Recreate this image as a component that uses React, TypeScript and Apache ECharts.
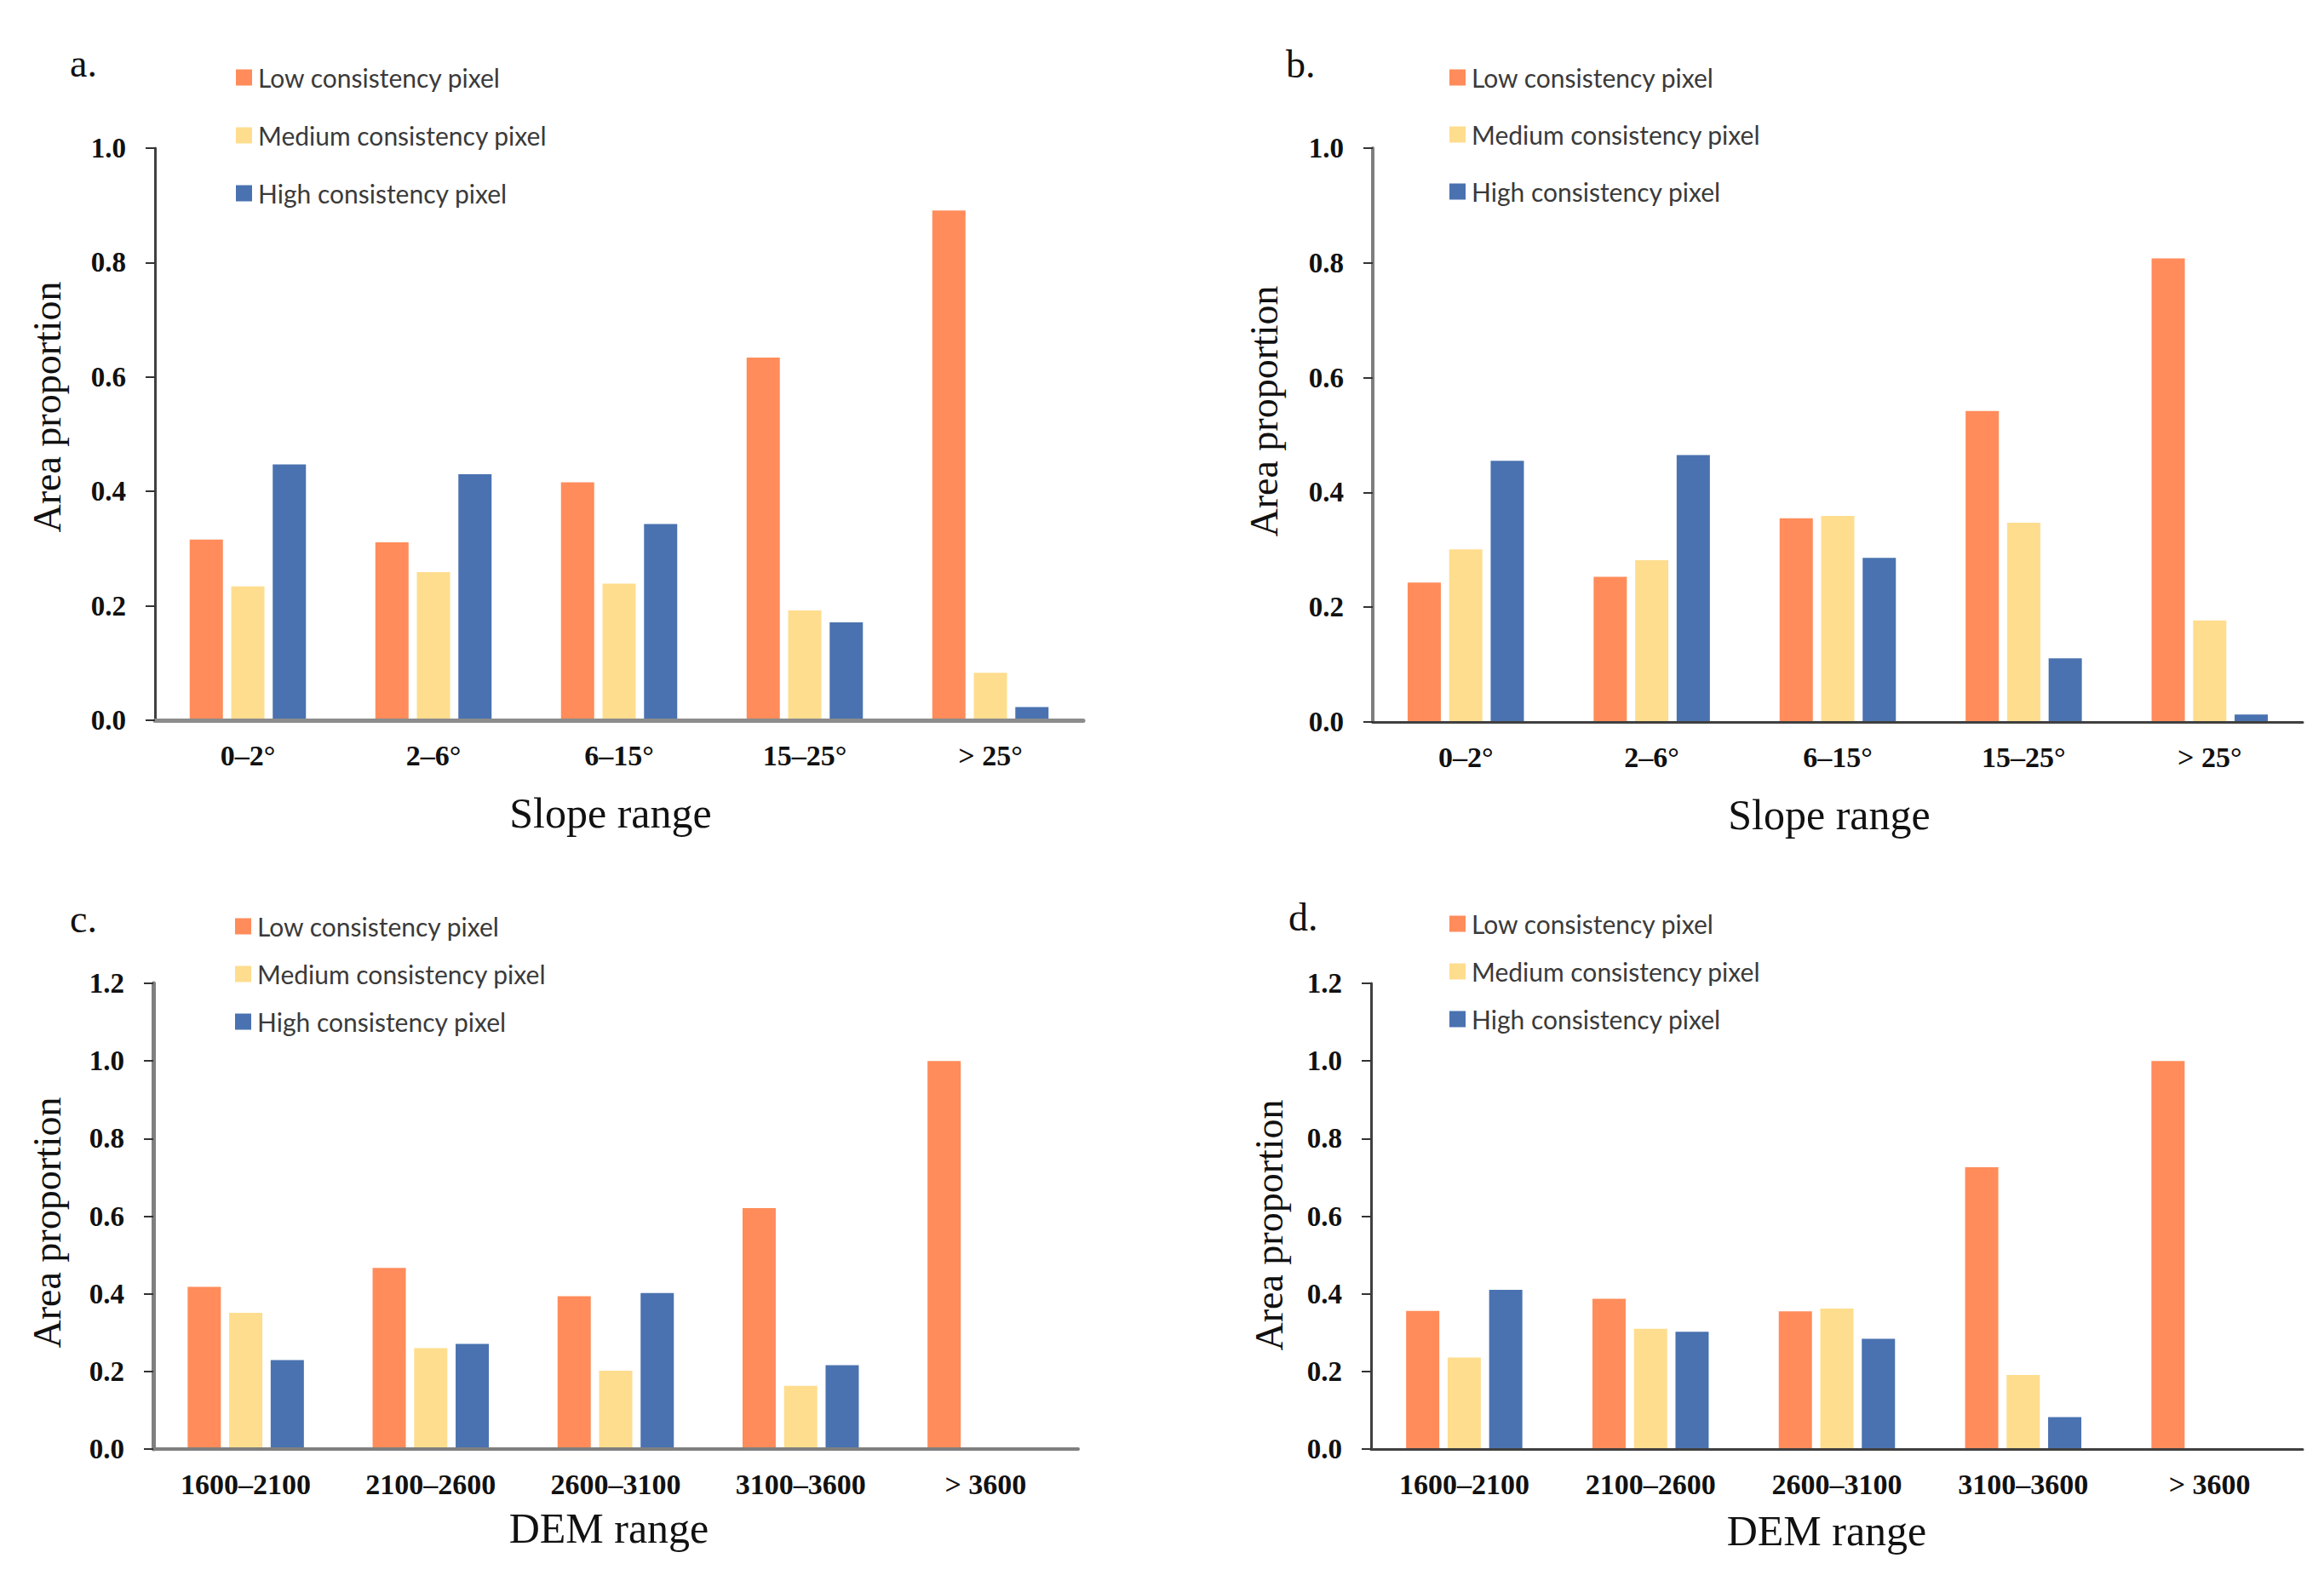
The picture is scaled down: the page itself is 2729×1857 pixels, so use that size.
import React, { useEffect, useRef } from "react";
import * as echarts from "echarts";

const slopeCategories = ["0–2°", "2–6°", "6–15°", "15–25°", "> 25°"];
const demCategories = ["1600–2100", "2100–2600", "2600–3100", "3100–3600", "> 3600"];
const seriesNames = ["Low consistency pixel", "Medium consistency pixel", "High consistency pixel"];
const seriesColors = ["#FF8C5A", "#FFDD8E", "#4A72B0"];

const aLow = [0.316, 0.311, 0.416, 0.634, 0.891];
const aMedium = [0.234, 0.259, 0.239, 0.192, 0.083];
const aHigh = [0.447, 0.43, 0.343, 0.171, 0.023];

const bLow = [0.243, 0.253, 0.355, 0.542, 0.808];
const bMedium = [0.301, 0.282, 0.359, 0.347, 0.177];
const bHigh = [0.455, 0.465, 0.286, 0.111, 0.013];

const cLow = [0.418, 0.467, 0.394, 0.621, 1.0];
const cMedium = [0.351, 0.26, 0.202, 0.163, 0];
const cHigh = [0.229, 0.271, 0.402, 0.216, 0];

const dLow = [0.356, 0.387, 0.355, 0.726, 1.0];
const dMedium = [0.236, 0.31, 0.362, 0.191, 0];
const dHigh = [0.41, 0.302, 0.284, 0.082, 0];

const slopeYTicks = ["0.0", "0.2", "0.4", "0.6", "0.8", "1.0"];
const demYTicks = ["0.0", "0.2", "0.4", "0.6", "0.8", "1.0", "1.2"];

const panelLetters = ["a.", "b.", "c.", "d."];
const xTitles = ["Slope range", "Slope range", "DEM range", "DEM range"];
const yTitle = "Area proportion";

const SERIF = "'Liberation Serif', 'Times New Roman', serif";
const SANS = "Lato, 'Liberation Sans', sans-serif";

export default function App() {
  const ref = useRef<HTMLDivElement>(null);

  useEffect(() => {
    document.body.style.margin = "0";
    document.body.style.overflow = "hidden";
    if (!ref.current) return;
    const chart = echarts.init(ref.current, undefined, { renderer: "svg" });

    const panels = [
      {
        cats: slopeCategories, data: [aLow, aMedium, aHigh], max: 1.0, ticks: slopeYTicks,
        grid: { left: 182, top: 174, width: 1090, height: 672 },
        yLine: { color: "#404040", width: 3 }, xLine: { color: "#8c8c8c", width: 5 },
        legend: { left: 272, top: 71, gap: 38 },
        letter: { x: 82, y: 74 }, xTitle: { x: 717, y: 955 }, yTitle: { x: 55, y: 478 },
      },
      {
        cats: slopeCategories, data: [bLow, bMedium, bHigh], max: 1.0, ticks: slopeYTicks,
        grid: { left: 1612, top: 174, width: 1092, height: 674 },
        yLine: { color: "#7f7f7f", width: 4 }, xLine: { color: "#404040", width: 3 },
        legend: { left: 1697, top: 71, gap: 37 },
        letter: { x: 1510, y: 75 }, xTitle: { x: 2148, y: 957 }, yTitle: { x: 1484, y: 483 },
      },
      {
        cats: demCategories, data: [cLow, cMedium, cHigh], max: 1.2, ticks: demYTicks,
        grid: { left: 180, top: 1155, width: 1086, height: 547 },
        yLine: { color: "#7f7f7f", width: 5 }, xLine: { color: "#7f7f7f", width: 4 },
        legend: { left: 271, top: 1068, gap: 26 },
        letter: { x: 82, y: 1079 }, xTitle: { x: 715, y: 1795 }, yTitle: { x: 55, y: 1436 },
      },
      {
        cats: demCategories, data: [dLow, dMedium, dHigh], max: 1.2, ticks: demYTicks,
        grid: { left: 1610, top: 1155, width: 1094, height: 547 },
        yLine: { color: "#404040", width: 3 }, xLine: { color: "#404040", width: 3 },
        legend: { left: 1697, top: 1065, gap: 26 },
        letter: { x: 1513, y: 1077 }, xTitle: { x: 2145, y: 1798 }, yTitle: { x: 1490, y: 1439 },
      },
    ];

    const grid = panels.map((p) => ({ ...p.grid, containLabel: false }));

    const xAxis = panels.map((p, i) => ({
      type: "category",
      gridIndex: i,
      data: p.cats,
      z: 5,
      axisLine: { show: true, lineStyle: { color: p.xLine.color, width: p.xLine.width } },
      axisTick: { show: false },
      axisLabel: {
        margin: 24,
        fontFamily: SERIF,
        fontWeight: "bold",
        fontSize: 34,
        color: "#111111",
        interval: 0,
      },
      splitLine: { show: false },
    }));

    const yAxis = panels.map((p, i) => ({
      type: "value",
      gridIndex: i,
      min: 0,
      max: p.max,
      interval: 0.2,
      z: 5,
      axisLine: { show: true, lineStyle: { color: p.yLine.color, width: p.yLine.width } },
      axisTick: { show: true, inside: false, length: 11, lineStyle: { color: "#333333", width: 2 } },
      axisLabel: {
        margin: 34,
        fontFamily: SERIF,
        fontWeight: "bold",
        fontSize: 33,
        color: "#111111",
        formatter: (v: number) => p.ticks[Math.round(v / 0.2)] ?? "",
      },
      splitLine: { show: false },
    }));

    const series: any[] = [];
    panels.forEach((p, i) => {
      p.data.forEach((vals, k) => {
        series.push({
          type: "bar",
          name: seriesNames[k],
          xAxisIndex: i,
          yAxisIndex: i,
          data: vals,
          barWidth: 39,
          barGap: "25%",
          itemStyle: { color: seriesColors[k] },
          emphasis: { disabled: true },
        });
      });
    });

    const legend = panels.map((p) => ({
      show: true,
      orient: "vertical",
      left: p.legend.left,
      top: p.legend.top,
      itemWidth: 19,
      itemHeight: 19,
      itemGap: p.legend.gap,
      icon: "rect",
      selectedMode: false,
      data: seriesNames,
      textStyle: {
        fontFamily: SANS,
        fontSize: 30,
        lineHeight: 30,
        color: "#3a3a3a",
        padding: [0, 0, 0, 2],
      },
    }));

    const graphic: any[] = [];
    panels.forEach((p, i) => {
      graphic.push({
        type: "text",
        x: p.letter.x,
        y: p.letter.y,
        style: {
          text: panelLetters[i],
          font: `46px ${SERIF}`,
          fill: "#111111",
          textAlign: "left",
          textVerticalAlign: "middle",
        },
      });
      graphic.push({
        type: "text",
        x: p.xTitle.x,
        y: p.xTitle.y,
        style: {
          text: xTitles[i],
          font: `50px ${SERIF}`,
          fill: "#111111",
          textAlign: "center",
          textVerticalAlign: "middle",
        },
      });
      graphic.push({
        type: "text",
        x: p.yTitle.x,
        y: p.yTitle.y,
        rotation: Math.PI / 2,
        style: {
          text: yTitle,
          font: `46px ${SERIF}`,
          fill: "#111111",
          textAlign: "center",
          textVerticalAlign: "middle",
        },
      });
    });

    chart.setOption({
      animation: false,
      backgroundColor: "#ffffff",
      grid,
      xAxis,
      yAxis,
      series,
      legend,
      graphic,
    });

    return () => {
      chart.dispose();
    };
  }, []);

  return <div ref={ref} style={{ width: 2729, height: 1857 }} />;
}
